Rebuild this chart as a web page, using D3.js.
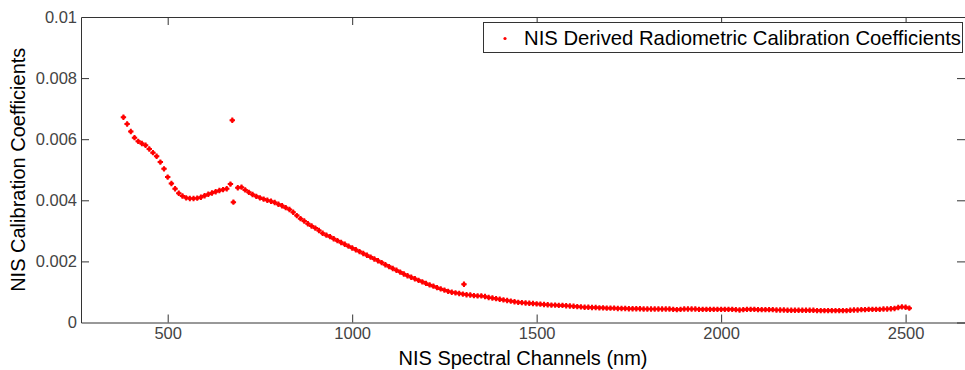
<!DOCTYPE html>
<html><head><meta charset="utf-8">
<script src="https://cdn.jsdelivr.net/npm/d3@7"></script>
<style>
html,body{margin:0;padding:0;background:#fff;overflow:hidden}
text{font-family:"Liberation Sans",Arial,Helvetica,sans-serif}
</style></head>
<body><svg id="chart" width="965" height="370"></svg>
<script>
// ---- data ----
const wavelengths = d3.range(380, 2520, 10); // NIS channel centres (nm)
const coefficients = [
 0.00672,0.00650,0.00625,0.00605,0.00593,0.00586,0.00580,0.00568,0.00556,0.00544,
 0.00525,0.00503,0.00476,0.00455,0.00438,0.00423,0.00414,0.00408,0.00406,0.00406,
 0.00407,0.00410,0.00415,0.00420,0.00424,0.00428,0.00432,0.00435,0.00438,0.00453,
 null,0.00441,0.00443,0.00434,0.00426,0.00419,0.00413,0.00408,0.00404,0.00400,
 0.00397,0.00393,0.00387,0.00382,0.00376,0.00370,0.00361,0.00350,0.00340,0.00332,
 0.00323,0.00316,0.00309,0.00301,0.00292,0.00286,0.00281,0.00274,0.00268,0.00262,
 0.00256,0.00250,0.00244,0.00238,0.00232,0.00226,0.00220,0.00214,0.00208,0.00202,
 0.00196,0.00189,0.00183,0.00177,0.00171,0.00165,0.00159,0.00153,0.00148,0.00143,
 0.00138,0.00133,0.00128,0.00123,0.00119,0.00114,0.00110,0.00106,0.00102,0.00099,
 0.00097,0.00095,0.00093,0.00091,0.00090,0.00088,0.00087,0.00087,0.00085,0.00082,
 0.00080,0.00078,0.00076,0.00074,0.00072,0.00070,0.00068,0.00066,0.00065,0.00064,
 0.00063,0.00062,0.00061,0.00060,0.00059,0.00058,0.00057,0.00057,0.00056,0.00056,
 0.00055,0.00054,0.00053,0.00052,0.00051,0.00050,0.00050,0.00049,0.00049,0.00048,
 0.00048,0.00047,0.00047,0.00047,0.00046,0.00046,0.00046,0.00045,0.00045,0.00045,
 0.00045,0.00044,0.00044,0.00044,0.00044,0.00044,0.00044,0.00044,0.00044,0.00043,
 0.00042,0.00043,0.00044,0.00044,0.00044,0.00044,0.00043,0.00043,0.00043,0.00043,
 0.00043,0.00043,0.00043,0.00043,0.00043,0.00043,0.00042,0.00041,0.00042,0.00043,
 0.00043,0.00043,0.00042,0.00042,0.00042,0.00042,0.00042,0.00041,0.00041,0.00041,
 0.00040,0.00040,0.00040,0.00040,0.00040,0.00040,0.00040,0.00040,0.00039,0.00039,
 0.00039,0.00039,0.00039,0.00039,0.00039,0.00039,0.00039,0.00040,0.00041,0.00041,
 0.00042,0.00042,0.00043,0.00043,0.00043,0.00043,0.00044,0.00044,0.00045,0.00046,
 0.00049,0.00051,0.00050,0.00047
];
const outlierWavelengths = [675, 678, 1303];
const outlierValues = [0.00662, 0.00394, 0.00125];
const xTicks = [500, 1000, 1500, 2000, 2500];
const yTicks = [0, 0.002, 0.004, 0.006, 0.008, 0.01];
const yTickLabels = ["0", "0.002", "0.004", "0.006", "0.008", "0.01"];
const xLabel = "NIS Spectral Channels (nm)";
const yLabel = "NIS Calibration Coefficients";
const legendLabel = "NIS Derived Radiometric Calibration Coefficients";

// ---- layout ----
const L = 81, R = 965, T = 17, B = 322.5;
const svg = d3.select("#chart");
const x = d3.scaleLinear().domain([265, 2661]).range([L, R]);
const y = d3.scaleLinear().domain([0, 0.01]).range([B, T]);

const pts = wavelengths.map((w, i) => ({w, v: coefficients[i]})).filter(d => d.v != null)
  .concat(outlierWavelengths.map((w, i) => ({w, v: outlierValues[i]})));

// markers: small plus with a filled core
const mk = svg.append("g").selectAll("g").data(pts).join("g")
  .attr("transform", d => `translate(${x(d.w)},${y(d.v)})`);
mk.append("path").attr("d", "M-2.7,0H2.7M0,-2.7V2.7")
  .attr("stroke", "#ff0000").attr("stroke-width", 2).attr("fill", "none");
mk.append("rect").attr("x", -1.6).attr("y", -1.6).attr("width", 3.2).attr("height", 3.2)
  .attr("fill", "#ff0000");

// axes
const axCol = "#333";
const tickSize = 8;
const gB = svg.append("g").attr("transform", `translate(0,${B})`)
  .call(d3.axisBottom(x).tickValues(xTicks).tickFormat(d3.format("d")).tickSize(-tickSize).tickPadding(5).tickSizeOuter(0));
const gT = svg.append("g").attr("transform", `translate(0,${T})`)
  .call(d3.axisTop(x).tickValues(xTicks).tickSize(-tickSize).tickFormat("").tickSizeOuter(0));
const gL = svg.append("g").attr("transform", `translate(${L},0)`)
  .call(d3.axisLeft(y).tickValues(yTicks).tickFormat((d, i) => yTickLabels[i]).tickSize(-tickSize).tickPadding(4).tickSizeOuter(0));
const gR = svg.append("g").attr("transform", `translate(${R},0)`)
  .call(d3.axisRight(y).tickValues(yTicks).tickFormat("").tickSize(-tickSize).tickSizeOuter(0));
[gB, gT, gL, gR].forEach(g => {
  g.select(".domain").attr("stroke", axCol).attr("stroke-width", 1);
  g.selectAll(".tick line").attr("stroke", axCol);
  g.selectAll(".tick text").attr("fill", "#444").style("font-size", "16.5px")
   .style("font-family", "'Liberation Sans',Arial,sans-serif");
});
gL.selectAll(".tick").filter(d => d === 0 || d === 0.01).select("line").remove();

// axis labels
svg.append("text").attr("x", (L + R) / 2).attr("y", 365).attr("text-anchor", "middle")
  .style("font-size", "20px").attr("fill", "#000").text(xLabel);
svg.append("text").attr("transform", `translate(25,${(T + B) / 2}) rotate(-90)`)
  .attr("text-anchor", "middle").style("font-size", "20px").attr("fill", "#000").text(yLabel);

// legend
const lx = 483.5, ly = 22.5, lw = 479, lh = 30;
svg.append("rect").attr("x", lx).attr("y", ly).attr("width", lw).attr("height", lh)
  .attr("fill", "#fff").attr("stroke", axCol).attr("stroke-width", 1);
svg.append("circle").attr("cx", 505).attr("cy", 38.5).attr("r", 1.6).attr("fill", "#ff0000");
svg.append("text").attr("x", 524).attr("y", 45)
  .style("font-size", "20.3px").attr("fill", "#000").text(legendLabel);
</script></body></html>
